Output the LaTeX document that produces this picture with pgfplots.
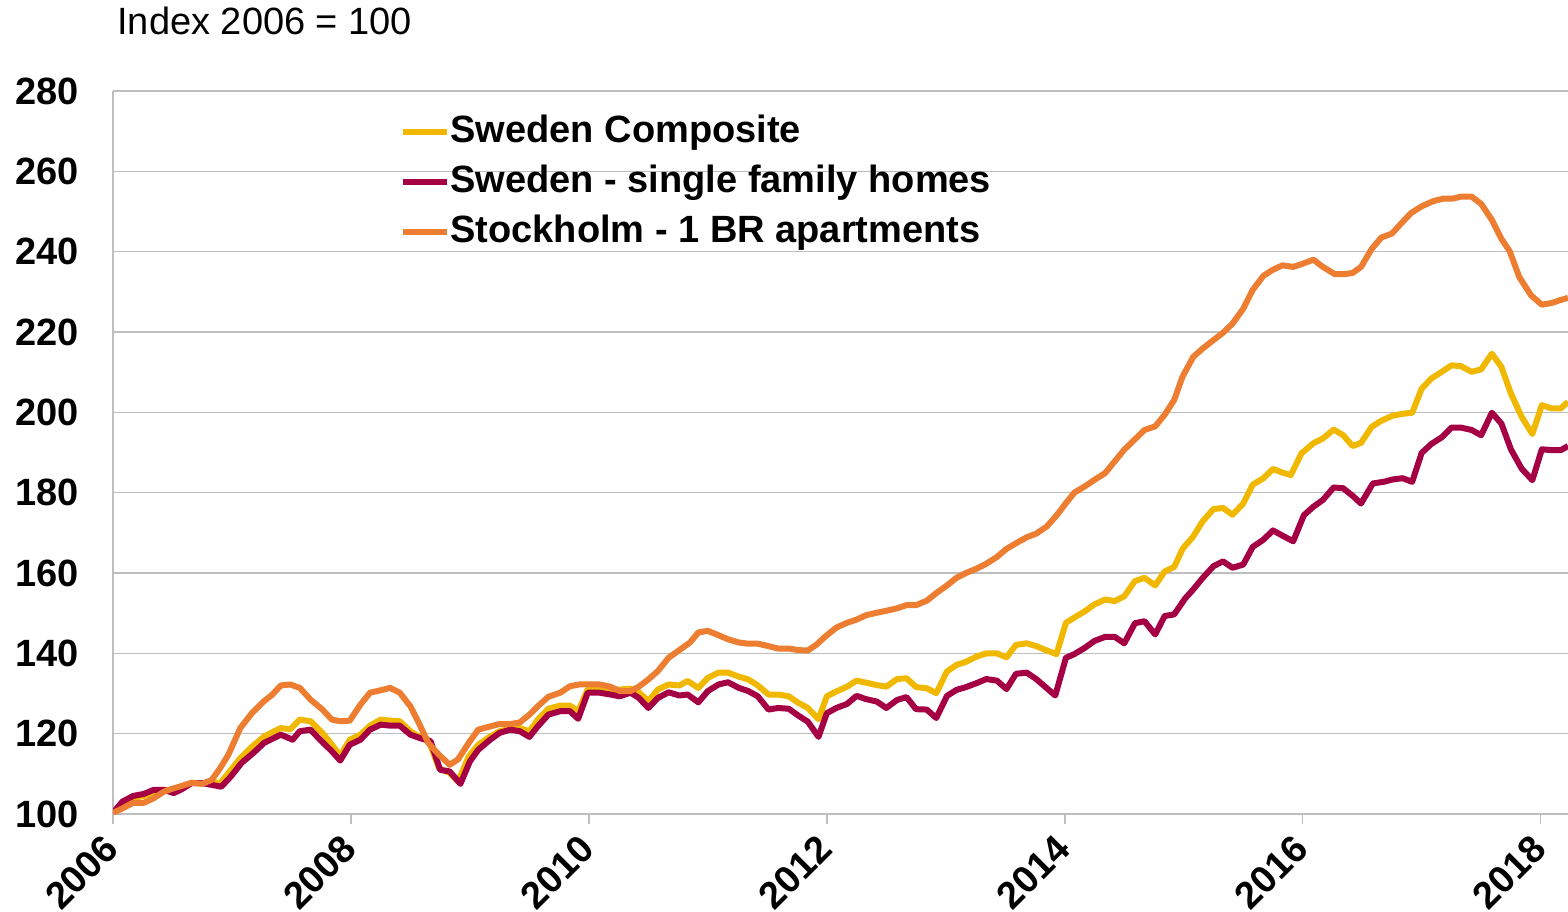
\documentclass[border=0pt]{standalone}
\usepackage{fontspec}
\setmainfont{Liberation Sans}
\usepackage{pgfplots}
\pgfplotsset{compat=1.18}

\definecolor{seYellow}{RGB}{240,184,0}
\definecolor{sePurple}{RGB}{165,0,68}
\definecolor{seOrange}{RGB}{237,125,49}
\definecolor{gridGray}{RGB}{190,190,190}

\newcommand{\lblfont}{\fontsize{19}{25}\selectfont}

\begin{document}
\begin{tikzpicture}
% page frame: the reference has white space left of the tick labels
\path[use as bounding box] (-56.5pt,-48.5pt) rectangle (727.5pt,407pt);
\begin{axis}[
    name=ax,
    at={(0,0)}, anchor=south west,
    scale only axis,
    width=727.5pt, height=361.5pt,
    xmin=2006, xmax=2018.23, ymin=100, ymax=280,
    axis x line*=bottom, axis y line*=left,
    axis line style={gridGray, line width=0.75pt},
    xtick={2006,2008,...,2018},
    ytick={100,120,...,280},
    ymajorgrids,
    grid style={gridGray, line width=0.75pt},
    tick align=outside,
    major tick length=5pt,
    xtick style={gridGray, line width=0.75pt},
    ytick style={draw=none},
    /pgf/number format/assume math mode=true,
    /pgf/number format/1000 sep={},
    tick label style={font=\bfseries\lblfont},
    % shifts are in the rotated frame of the label
    xticklabel style={rotate=45, anchor=east, inner sep=0pt, xshift=-6.8pt, yshift=-6pt},
    yticklabel style={xshift=-8.5pt},
    legend cell align=left,
    legend image code/.code={\draw[#1] (0pt,0pt) -- (22pt,0pt);},
    legend style={draw=none, fill=none, at={(0.1973,0.978)}, anchor=north west,
        font=\bfseries\lblfont, inner sep=0pt, row sep=0pt,
        nodes={inner sep=0pt, text height=17.5pt, text depth=7.5pt},
        /tikz/every even column/.append style={column sep=2pt}},
]
% Sweden Composite
\addplot[seYellow, line width=3pt, line join=round] coordinates {
(2006.00,100.2)(2006.08,102.5)(2006.17,104)(2006.26,104.5)(2006.34,105.5)(2006.43,106)
(2006.51,105.8)(2006.58,106.5)(2006.66,107.7)(2006.75,107.7)(2006.83,108)(2006.90,107.7)
(2006.97,110.2)(2007.07,113.9)(2007.17,116.8)(2007.27,119.3)(2007.41,121.4)(2007.49,121.1)
(2007.57,123.5)(2007.66,123.1)(2007.76,120.2)(2007.84,117.25)(2007.91,114.5)(2007.99,118.5)
(2008.08,119.75)(2008.16,122)(2008.25,123.5)(2008.33,123.25)(2008.41,123.1)(2008.50,120.6)
(2008.57,119.3)(2008.65,118.5)(2008.74,111.4)(2008.83,110.2)(2008.90,108.1)(2008.99,114.3)
(2009.07,117.25)(2009.17,119.3)(2009.25,120.6)(2009.34,121.2)(2009.42,121.4)(2009.50,120.6)
(2009.57,123.5)(2009.66,126.2)(2009.76,127)(2009.84,127)(2009.91,125.6)(2009.99,131)
(2010.09,131)(2010.18,130.6)(2010.26,131)(2010.35,131.2)(2010.42,130.3)(2010.50,128.1)
(2010.58,131)(2010.67,132.25)(2010.76,132)(2010.83,133.1)(2010.92,131.4)(2011.00,133.9)
(2011.09,135.2)(2011.17,135.2)(2011.26,134.2)(2011.34,133.5)(2011.42,132)(2011.51,129.75)
(2011.59,129.75)(2011.68,129.3)(2011.76,127.7)(2011.84,126.4)(2011.93,123.6)(2012.00,129.3)
(2012.08,130.5)(2012.17,131.7)(2012.25,133.2)(2012.33,132.7)(2012.42,132.1)(2012.50,131.7)
(2012.59,133.6)(2012.67,133.8)(2012.75,131.6)(2012.84,131.3)(2012.92,130.1)(2013.01,135.5)
(2013.09,137.1)(2013.17,137.9)(2013.26,139.2)(2013.34,140)(2013.43,140)(2013.51,139)
(2013.59,142.1)(2013.68,142.5)(2013.76,141.8)(2013.85,140.7)(2013.93,139.8)(2014.01,147.6)
(2014.08,148.9)(2014.17,150.5)(2014.25,152.2)(2014.34,153.4)(2014.42,153)(2014.50,154.2)
(2014.59,158)(2014.67,158.8)(2014.76,156.9)(2014.84,160.4)(2014.92,161.5)(2014.99,166)
(2015.08,169.1)(2015.16,172.9)(2015.25,175.9)(2015.33,176.2)(2015.41,174.5)(2015.50,177.3)
(2015.58,182)(2015.67,183.6)(2015.75,185.9)(2015.83,185)(2015.90,184.4)(2015.99,189.8)
(2016.09,192.3)(2016.17,193.5)(2016.26,195.7)(2016.34,194.3)(2016.42,191.6)(2016.49,192.4)
(2016.58,196.4)(2016.66,197.9)(2016.75,199.1)(2016.83,199.6)(2016.92,199.9)(2017.00,205.9)
(2017.08,208.4)(2017.17,210.1)(2017.25,211.7)(2017.33,211.5)(2017.42,210.1)(2017.50,210.7)
(2017.59,214.6)(2017.67,211.3)(2017.75,204.7)(2017.84,198.9)(2017.93,194.6)(2018.01,201.8)
(2018.09,201)(2018.17,201)(2018.23,202.6)};
\addlegendentry{Sweden Composite}
% Sweden - single family homes
\addplot[sePurple, line width=3pt, line join=round] coordinates {
(2006.00,100.3)(2006.08,103.1)(2006.17,104.5)(2006.26,105)(2006.34,106)(2006.43,106)
(2006.51,105.2)(2006.58,106.2)(2006.66,107.7)(2006.75,107.7)(2006.83,107.25)(2006.91,106.8)
(2006.99,109.3)(2007.08,112.7)(2007.18,115.2)(2007.27,117.7)(2007.41,119.75)(2007.51,118.5)
(2007.57,120.6)(2007.66,121)(2007.74,118.5)(2007.84,115.6)(2007.91,113.3)(2007.99,117.25)
(2008.08,118.5)(2008.16,121)(2008.25,122.25)(2008.33,122)(2008.41,122)(2008.50,119.75)
(2008.58,118.9)(2008.67,118.1)(2008.75,111)(2008.83,110.6)(2008.92,107.5)(2009.00,113.1)
(2009.07,116)(2009.17,118.5)(2009.25,120.2)(2009.34,121)(2009.42,120.6)(2009.50,119.2)
(2009.57,121.8)(2009.66,124.75)(2009.76,125.6)(2009.84,125.6)(2009.91,123.7)(2009.99,130.2)
(2010.09,130.2)(2010.18,129.75)(2010.26,129.3)(2010.35,130.2)(2010.42,128.9)(2010.50,126.4)
(2010.58,128.9)(2010.67,130.3)(2010.76,129.5)(2010.83,129.75)(2010.92,127.8)(2011.00,130.6)
(2011.09,132.25)(2011.17,132.8)(2011.26,131.4)(2011.34,130.6)(2011.42,129.3)(2011.51,126)
(2011.59,126.4)(2011.68,126.2)(2011.76,124.5)(2011.84,123)(2011.93,119.2)(2012.00,125.1)
(2012.08,126.4)(2012.17,127.4)(2012.25,129.4)(2012.33,128.6)(2012.42,128)(2012.50,126.4)
(2012.59,128.4)(2012.67,129.1)(2012.75,126.1)(2012.84,126)(2012.92,123.9)(2013.01,129.4)
(2013.09,130.9)(2013.17,131.6)(2013.26,132.6)(2013.34,133.6)(2013.43,133.2)(2013.51,131.1)
(2013.59,134.9)(2013.68,135.2)(2013.76,133.6)(2013.85,131.3)(2013.92,129.5)(2014.01,138.9)
(2014.08,139.8)(2014.17,141.4)(2014.25,143.1)(2014.34,144.1)(2014.42,144.1)(2014.50,142.5)
(2014.59,147.5)(2014.67,148)(2014.76,144.7)(2014.84,149.3)(2014.92,149.7)(2015.01,153.6)
(2015.08,155.9)(2015.16,158.8)(2015.25,161.7)(2015.33,162.9)(2015.41,161.3)(2015.50,162.1)
(2015.58,166.5)(2015.67,168.3)(2015.75,170.6)(2015.83,169.3)(2015.92,167.9)(2016.01,174.4)
(2016.09,176.5)(2016.17,178.2)(2016.26,181.3)(2016.34,181.1)(2016.42,179.2)(2016.49,177.3)
(2016.59,182.3)(2016.68,182.7)(2016.76,183.3)(2016.84,183.6)(2016.92,182.7)(2017.00,189.9)
(2017.08,192.1)(2017.17,193.8)(2017.25,196.2)(2017.33,196.2)(2017.42,195.6)(2017.50,194.3)
(2017.59,199.9)(2017.67,197.2)(2017.75,190.8)(2017.84,186)(2017.93,183.1)(2018.01,190.8)
(2018.09,190.6)(2018.17,190.6)(2018.23,191.6)};
\addlegendentry{Sweden - single family homes}
% Stockholm - 1 BR apartments
\addplot[seOrange, line width=3pt, line join=round] coordinates {
(2006.00,100.3)(2006.08,101.4)(2006.17,102.8)(2006.26,102.8)(2006.34,103.9)(2006.43,105.6)
(2006.51,106.4)(2006.58,107)(2006.66,107.8)(2006.75,107.5)(2006.83,108.5)(2006.90,111.4)
(2006.97,114.75)(2007.07,121.4)(2007.17,125.2)(2007.27,128.1)(2007.34,129.75)(2007.41,132)
(2007.49,132.25)(2007.57,131.4)(2007.66,128.5)(2007.76,126)(2007.84,123.5)(2007.91,123.1)
(2007.99,123.25)(2008.08,127.25)(2008.16,130.2)(2008.25,130.8)(2008.33,131.4)(2008.41,130.2)
(2008.50,126.8)(2008.57,122.7)(2008.65,117.7)(2008.74,114.75)(2008.83,112.25)(2008.90,113.6)
(2008.99,117.7)(2009.07,121)(2009.17,121.8)(2009.25,122.4)(2009.34,122.4)(2009.42,122.8)
(2009.50,124.75)(2009.57,126.8)(2009.66,129.2)(2009.76,130.2)(2009.84,131.8)(2009.92,132.25)
(2010.01,132.25)(2010.09,132.25)(2010.18,131.7)(2010.26,130.6)(2010.35,130.6)(2010.42,131.7)
(2010.50,133.5)(2010.58,135.6)(2010.67,138.9)(2010.76,140.8)(2010.85,142.7)(2010.92,145.2)
(2011.00,145.6)(2011.09,144.5)(2011.17,143.5)(2011.26,142.7)(2011.34,142.4)(2011.42,142.4)
(2011.51,141.8)(2011.59,141.2)(2011.68,141.2)(2011.76,140.8)(2011.84,140.7)(2011.91,142.1)
(2012.00,144.5)(2012.08,146.4)(2012.17,147.6)(2012.25,148.4)(2012.33,149.5)(2012.42,150.1)
(2012.50,150.6)(2012.59,151.2)(2012.67,152)(2012.75,152)(2012.84,153.1)(2012.92,155)
(2013.01,156.9)(2013.09,158.8)(2013.17,160)(2013.26,161.1)(2013.34,162.3)(2013.43,164)
(2013.51,166)(2013.59,167.4)(2013.68,168.9)(2013.76,169.8)(2013.85,171.6)(2013.93,174.3)
(2014.01,177.4)(2014.08,180)(2014.17,181.6)(2014.25,183.2)(2014.34,184.9)(2014.42,187.8)
(2014.50,190.7)(2014.59,193.3)(2014.67,195.6)(2014.76,196.5)(2014.84,199.4)(2014.92,203.1)
(2014.99,208.9)(2015.08,213.8)(2015.16,215.9)(2015.25,218)(2015.33,219.8)(2015.41,222.1)
(2015.50,225.8)(2015.58,230.5)(2015.67,234)(2015.75,235.5)(2015.83,236.6)(2015.92,236.2)
(2016.00,237)(2016.09,238)(2016.17,236.2)(2016.27,234.4)(2016.35,234.4)(2016.42,234.7)
(2016.49,236.2)(2016.58,240.7)(2016.66,243.5)(2016.75,244.5)(2016.83,247.1)(2016.91,249.6)
(2017.00,251.3)(2017.10,252.6)(2017.18,253.2)(2017.26,253.2)(2017.33,253.7)(2017.42,253.7)
(2017.50,251.9)(2017.59,247.9)(2017.67,243.2)(2017.74,240.1)(2017.82,233.7)(2017.92,229.1)
(2018.01,226.8)(2018.09,227.2)(2018.16,227.9)(2018.23,228.5)};
\addlegendentry{Stockholm - 1 BR apartments}
\end{axis}
\node[anchor=base west, inner sep=0pt, font=\lblfont] at ([xshift=2pt, yshift=28pt]ax.north west) {Index 2006 = 100};
\end{tikzpicture}
\end{document}
